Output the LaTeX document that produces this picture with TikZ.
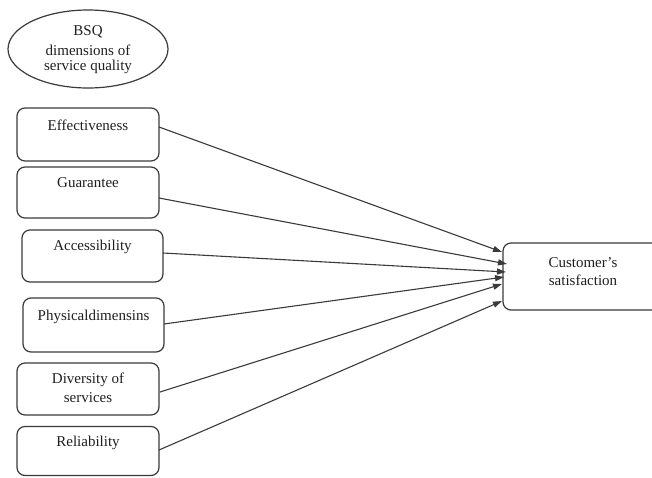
\documentclass[tikz,border=0pt]{standalone}
\usepackage{fontspec}
\setmainfont{Liberation Serif}
\usetikzlibrary{arrows.meta,shapes.geometric}
\definecolor{edge}{HTML}{3A3A3A}
\definecolor{ink}{HTML}{1E1E1E}
\tikzset{
  boxshape/.style={draw=edge, line width=1.2pt, rounded corners=8pt, minimum width=142pt, inner sep=0pt},
  txt/.style={font=\fontsize{15pt}{18pt}\selectfont, text=ink, align=center, inner sep=0pt},
  conn/.style={draw=edge, line width=1.1pt, -{Triangle[length=9pt,width=6pt]}},
}
\begin{document}
\begin{tikzpicture}[x=1pt,y=-1pt]
\useasboundingbox (0,0) rectangle (652,477);
\begin{scope}
\clip (0,0) rectangle (652,477);
% ellipse
\node[draw=edge, line width=1.2pt, ellipse, minimum width=160pt, minimum height=78pt, inner sep=0pt] (bsq) at (88,49) {};
\node[txt] (bsqt) at (88,32) {BSQ};
\node[txt] (bsqt2) at (88,50) {dimensions of};
\node[txt] (bsqt3) at (88,67) {service quality};
% left boxes
\node[boxshape, minimum height=53pt] (eb) at (88,134.5) {};
\node[txt] (et) at (88,125) {Effectiveness};
\node[boxshape, minimum height=51pt] (gb) at (88,192.5) {};
\node[txt] (gt) at (88,183) {Guarantee};
\node[boxshape, minimum width=141pt, minimum height=52pt] (ab) at (92.5,256) {};
\node[txt] (at) at (92.5,247) {Accessibility};
\node[boxshape, minimum width=141pt, minimum height=54pt] (pb) at (93.5,325) {};
\node[txt] (pt) at (93.5,317) {Physicaldimensins};
\node[boxshape, minimum height=52pt] (db) at (88,389) {};
\node[txt] (dt) at (88,380) {Diversity of};
\node[txt] (dt2) at (88,398) {services};
\node[boxshape, minimum height=49pt] (rb) at (88,451) {};
\node[txt] (rt) at (88,443) {Reliability};
% right box
\node[boxshape, minimum width=162pt, minimum height=67pt] (cb) at (584,276.5) {};
\node[txt] (ct) at (583,263) {Customer's};
\node[txt] (ct2) at (583,280) {satisfaction};
% connector ends
\coordinate (s1) at (159,127);
\coordinate (s2) at (159,198);
\coordinate (s3) at (163,253);
\coordinate (s4) at (164,324);
\coordinate (s5) at (160,392);
\coordinate (s6) at (159,450);
\coordinate (t1) at (502,252);
\coordinate (t2) at (507,264);
\coordinate (t3) at (506,272);
\coordinate (t4) at (504,277);
\coordinate (t5) at (502,284);
\coordinate (t6) at (502,301);
\draw[conn] (s1) -- (t1);
\draw[conn] (s2) -- (t2);
\draw[conn] (s3) -- (t3);
\draw[conn] (s4) -- (t4);
\draw[conn] (s5) -- (t5);
\draw[conn] (s6) -- (t6);
\end{scope}
\end{tikzpicture}
\end{document}
